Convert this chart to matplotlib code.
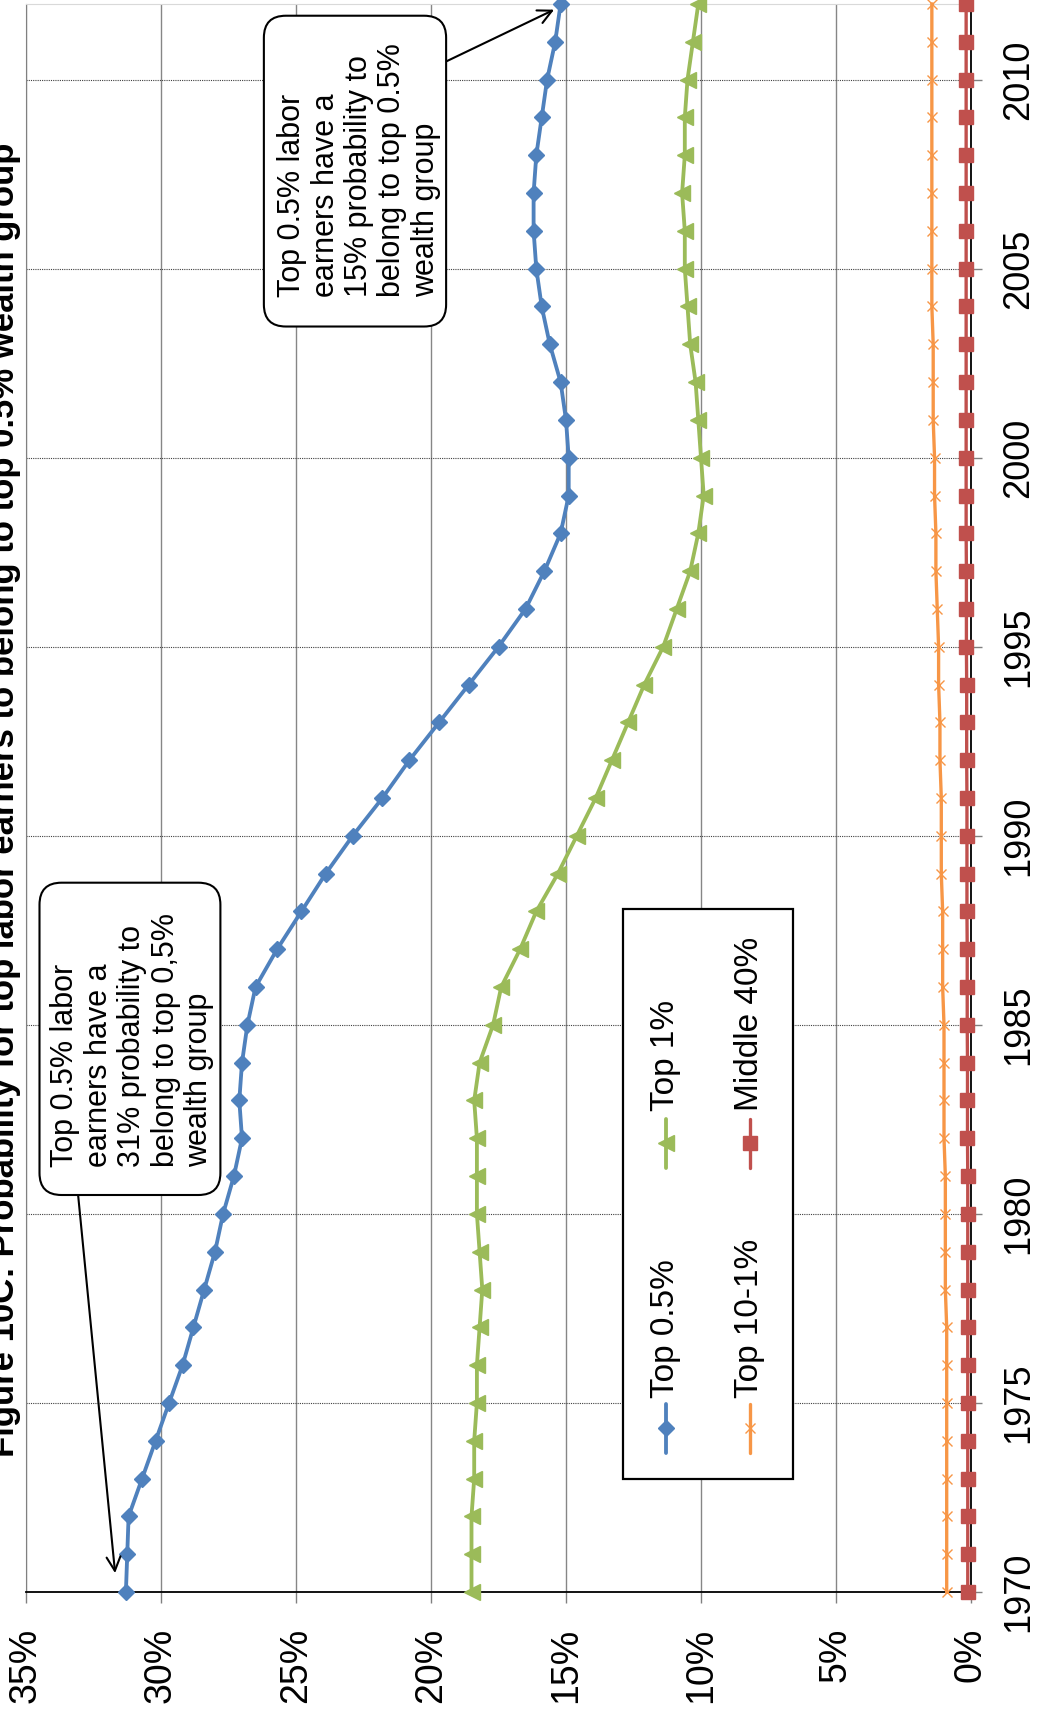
import numpy as np
import matplotlib as mpl
import matplotlib.pyplot as plt
from matplotlib.patches import FancyBboxPatch, Rectangle
from matplotlib.transforms import IdentityTransform

mpl.rcParams["font.family"] = ["Liberation Sans", "DejaVu Sans"]

TITLE = "Figure 10C: Probability for top labor earners to belong to top 0.5% wealth group"

years = np.arange(1970, 2013)

top_05 = [31.3, 31.25, 31.2, 30.7, 30.2, 29.7, 29.2, 28.8, 28.4, 28.0,
          27.7, 27.3, 27.0, 27.1, 27.0, 26.8, 26.5, 25.7, 24.8, 23.9,
          22.9, 21.8, 20.8, 19.7, 18.6, 17.5, 16.5, 15.8, 15.2, 14.9,
          14.9, 15.0, 15.2, 15.6, 15.9, 16.1, 16.2, 16.2, 16.1, 15.9,
          15.7, 15.4, 15.2]
top_1 = [18.5, 18.5, 18.5, 18.4, 18.4, 18.3, 18.3, 18.2, 18.1, 18.2,
         18.3, 18.3, 18.3, 18.4, 18.2, 17.7, 17.4, 16.7, 16.1, 15.3,
         14.6, 13.9, 13.3, 12.7, 12.1, 11.4, 10.9, 10.4, 10.1, 9.9,
         10.0, 10.1, 10.2, 10.4, 10.5, 10.6, 10.6, 10.7, 10.6, 10.6,
         10.5, 10.3, 10.1]
top_10_1 = [0.9, 0.9, 0.9, 0.9, 0.9, 0.9, 0.9, 0.9, 0.95, 0.95,
            0.95, 0.95, 1.0, 1.0, 1.0, 1.0, 1.05, 1.05, 1.05, 1.1,
            1.1, 1.1, 1.15, 1.15, 1.2, 1.2, 1.25, 1.3, 1.3, 1.35,
            1.35, 1.4, 1.4, 1.4, 1.45, 1.45, 1.45, 1.45, 1.45, 1.45,
            1.45, 1.45, 1.45]
middle_40 = [0.12, 0.12, 0.12, 0.12, 0.12, 0.12, 0.12, 0.12, 0.12, 0.12,
             0.12, 0.12, 0.13, 0.13, 0.13, 0.14, 0.14, 0.14, 0.15, 0.15,
             0.15, 0.15, 0.16, 0.16, 0.16, 0.17, 0.17, 0.17, 0.18, 0.18,
             0.18, 0.18, 0.18, 0.18, 0.18, 0.18, 0.18, 0.18, 0.18, 0.18,
             0.18, 0.18, 0.18]

labels = ["Top 0.5%", "Top 1%", "Top 10-1%", "Middle 40%"]
colors = ["#4F81BD", "#9BBB59", "#F79646", "#C0504D"]

note_31 = ("Top 0.5% labor\nearners have a\n31% probability to\n"
           "belong to top 0,5%\nwealth group")
note_15 = ("Top 0.5% labor\nearners have a\n15% probability to\n"
           "belong to top 0.5%\nwealth group")

fig = plt.figure(figsize=(10.37, 17.18), dpi=100)
ax = fig.add_axes([26 / 1037, 126 / 1718, 945 / 1037, 1588 / 1718])

# chart is drawn turned a quarter turn: values run across, years run up
styles = [dict(marker="D", ms=8.6, lw=2.75),
          dict(marker="<", ms=11.5, lw=2.75),
          dict(marker="x", ms=7.5, lw=2.4, mew=1.0),
          dict(marker="s", ms=9.5, lw=2.4)]
series = [top_05, top_1, top_10_1, middle_40]
for vals, col, st in zip(series, colors, styles):
    ax.plot(vals, years, color=col, mec=col, mfc=col, clip_on=False,
            zorder=3, **st)

ax.set_xlim(35, 0)
ax.set_ylim(1970, 2012)
ax.set_xticks(np.arange(0, 36, 5))
ax.xaxis.set_major_formatter(mpl.ticker.FuncFormatter(lambda v, p: "%d%%" % v))
ax.set_yticks(np.arange(1970, 2011, 5))

ax.xaxis.grid(True, color="#868686", lw=1.0, ls="-")
ax.yaxis.grid(True, color="#404040", lw=0.8, ls=(0, (1, 1)))
ax.set_axisbelow(True)

ax.spines["left"].set_color("#808080")
ax.spines["top"].set_color("#d9d9d9")
ax.spines["right"].set_color("black")
ax.spines["bottom"].set_color("black")
ax.spines["right"].set_linewidth(1.3)
ax.spines["bottom"].set_linewidth(1.3)

ax.tick_params(axis="x", direction="out", length=8, width=1, color="#808080",
               labelsize=27, pad=18, labelrotation=90)
ax.tick_params(axis="y", direction="out", length=8, width=1, color="#808080",
               labelsize=26, pad=14, labelrotation=90,
               left=False, labelleft=False, right=True, labelright=True)
for lbl in ax.get_yticklabels():
    lbl.set_va("center")

# the title runs off the left edge in the source as well
fig.text(21 / 1037, 1 - 800 / 1718, TITLE, rotation=90, ha="right",
         va="center", fontsize=25, fontweight="bold")


def callout(x0, x1, y0, y1):
    p0 = ax.transData.transform((x0, y0))
    p1 = ax.transData.transform((x1, y1))
    box = FancyBboxPatch((min(p0[0], p1[0]), min(p0[1], p1[1])),
                         abs(p1[0] - p0[0]), abs(p1[1] - p0[1]),
                         boxstyle="round,pad=0,rounding_size=22",
                         transform=IdentityTransform(), fc="white",
                         ec="black", lw=1.5, zorder=5, clip_on=False)
    ax.add_artist(box)


callout(34.5, 27.8, 1980.5, 1988.76)
ax.text(34.1, 1981.25, note_31, rotation=90, ha="left", va="bottom",
        multialignment="left", fontsize=22, linespacing=1.15, zorder=6)
ax.annotate("", xy=(31.7, 1970.5), xytext=(33.07, 1980.5),
            arrowprops=dict(arrowstyle="->", color="black", lw=1.5,
                            mutation_scale=25, shrinkA=0, shrinkB=0),
            zorder=4)

callout(26.19, 19.44, 2003.47, 2011.69)
ax.text(25.7, 2004.25, note_15, rotation=90, ha="left", va="bottom",
        multialignment="left", fontsize=22, linespacing=1.15, zorder=6)
ax.annotate("", xy=(15.44, 2011.85), xytext=(19.44, 2010.48),
            arrowprops=dict(arrowstyle="->", color="black", lw=1.5,
                            mutation_scale=25, shrinkA=0, shrinkB=0),
            zorder=4)

# legend, drawn by hand since it is turned as well
ax.add_patch(Rectangle((0.632, 0.0712), 0.18, 0.3588, transform=ax.transAxes,
                       fc="white", ec="black", lw=1.6, zorder=5))
leg_x = [0.677, 0.677, 0.766, 0.766]
leg_y = [(0.0875, 0.1033, 0.1184, 0.1222), (0.2670, 0.2827, 0.2979, 0.3029),
         (0.0875, 0.1033, 0.1184, 0.1222), (0.2670, 0.2827, 0.2979, 0.3029)]
for i in range(4):
    lx = leg_x[i]
    y0, ym, y1, yt = leg_y[i]
    st = styles[i]
    ax.plot([lx, lx], [y0, y1], transform=ax.transAxes, color=colors[i],
            lw=st["lw"], solid_capstyle="round", zorder=6, clip_on=False)
    ax.plot([lx], [ym], transform=ax.transAxes, color=colors[i],
            marker=st["marker"], ms=st["ms"], mew=st.get("mew", 1.0),
            mec=colors[i], mfc=colors[i], ls="none", zorder=6, clip_on=False)
    ax.text(lx, yt, labels[i], transform=ax.transAxes, rotation=90,
            ha="center", va="bottom", fontsize=24, zorder=6)

fig.savefig("out.png", dpi=100, facecolor="white")
